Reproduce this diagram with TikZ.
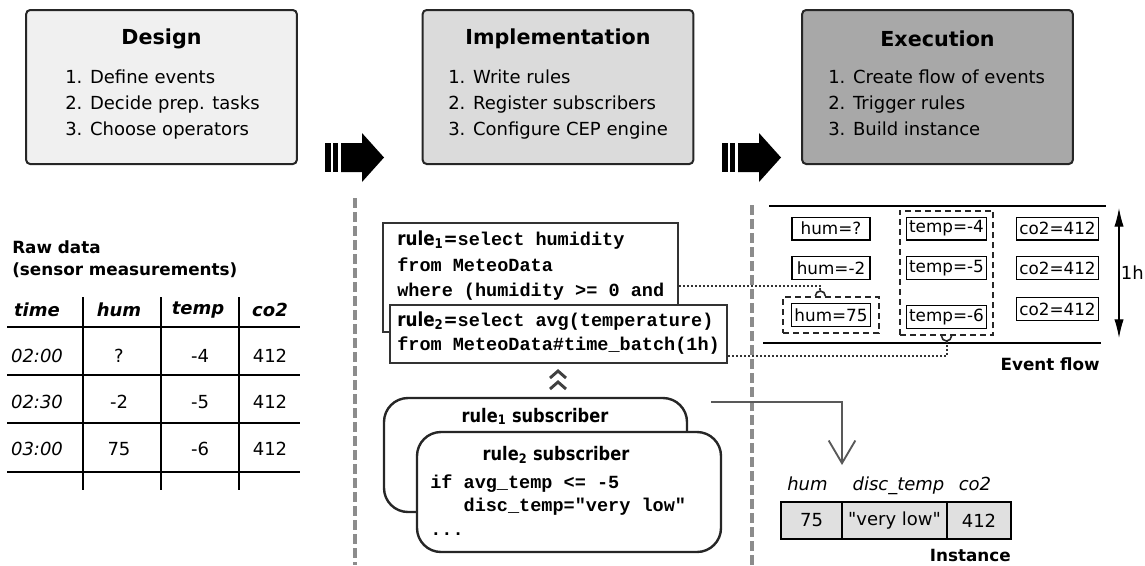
\documentclass[tikz,border=0pt]{standalone}
\usepackage{fontspec}
\setmainfont{DejaVu Sans}
\setmonofont{Liberation Mono}
\newfontfamily\narrowfont[FakeStretch=0.87]{DejaVu Sans}
\usetikzlibrary{arrows.meta,fit,positioning}

\newcommand{\bodysize}{\fontsize{13.5pt}{16pt}\selectfont}
\newcommand{\titlesize}{\fontsize{15.5pt}{18pt}\selectfont}
\newcommand{\labelsize}{\fontsize{12.6pt}{15pt}\selectfont}
\newcommand{\codesize}{\fontsize{13.9pt}{16pt}\selectfont}
\newcommand{\evsize}{\fontsize{12.6pt}{14pt}\selectfont}
\newcommand{\rulehead}[1]{{\narrowfont\bfseries\fontsize{14.5pt}{16pt}\selectfont rule\textsubscript{#1}=}}

\tikzset{
  stagebox/.style={draw=black!85, line width=1.5pt, rounded corners=3pt,
    minimum width=203pt, minimum height=115.5pt},
  stagetitle/.style={font=\titlesize\bfseries},
  stageitem/.style={anchor=base west, inner sep=0pt, font=\bodysize},
  divider/.style={draw=black!45, line width=2.6pt, dash pattern=on 7.5pt off 3pt},
  tabline/.style={line width=2pt},
  thead/.style={font=\bodysize\bfseries\itshape},
  tcell/.style={font=\bodysize},
  rulebox/.style={draw=black!80, line width=1.8pt, fill=white},
  code/.style={anchor=base west, inner sep=0pt, font=\codesize\ttfamily\bfseries},
  subbox/.style={draw=black!85, line width=1.8pt, fill=white, rounded corners=18pt},
  subtitle/.style={anchor=base, inner sep=0pt, font=\narrowfont\fontsize{14pt}{16pt}\selectfont\bfseries},
  boldlbl/.style={inner sep=0pt, font=\labelsize\bfseries},
  evbox/.style={draw, line width=1pt, minimum width=58.5pt, minimum height=17pt,
    inner xsep=2pt, inner ysep=1pt, font=\evsize},
  selbox/.style={draw=black!85, line width=1.5pt, dash pattern=on 4.5pt off 3pt, inner sep=4.5pt},
  link/.style={draw=black!80, line width=1.5pt, dash pattern=on 1.5pt off 1.5pt},
  capline/.style={draw=black!85, line width=1.2pt},
  flowline/.style={line width=1.3pt},
  spanarrow/.style={line width=0.9pt, {Latex[length=14pt,width=7pt]}-{Latex[length=14pt,width=7pt]}},
  outarrow/.style={draw=black!65, line width=1.4pt, -{Straight Barb[length=17pt,width=20pt]}},
  chev/.style={draw=black!75, line width=2.2pt},
  cell/.style={draw, line width=1.8pt, fill=black!12, outer sep=0pt,
    minimum height=27.75pt, font=\bodysize},
  lbl/.style={anchor=base, inner sep=0pt, font=\bodysize\itshape}
}

\begin{document}
\begin{tikzpicture}[x=0.75pt, y=-0.75pt]
    \useasboundingbox (0,0) rectangle (1145,565);

    % stages
    \node[stagebox, fill=black!6] (design) at (161.5,87) {};
    \node[stagebox, fill=black!14] (impl) at (558,87) {};
    \node[stagebox, fill=black!34] (exec) at (937.5,87) {};
    \node[stagetitle] (design-t) at ([yshift=-22.5pt]design.north) {Design};
    \node[stagetitle] (impl-t) at ([yshift=-22.5pt]impl.north) {Implementation};
    \node[stagetitle] (exec-t) at ([yshift=-22.5pt]exec.north) {Execution};
    \foreach \t [count=\i] in {Define events, Decide prep. tasks, Choose operators}
        \node[stageitem] (design-\i) at (65, 57+26*\i) {\i. \t};
    \foreach \t [count=\i] in {Write rules, Register subscribers, Configure CEP engine}
        \node[stageitem] (impl-\i) at (448, 57+26*\i) {\i. \t};
    \foreach \t [count=\i] in {Create flow of events, Trigger rules, Build instance}
        \node[stageitem] (exec-\i) at (828, 57+26*\i) {\i. \t};

    % block arrows between stages
    \foreach \dx in {0,397} {
        \fill (325+\dx,143) rectangle ++(6,29);
        \fill (333+\dx,143) rectangle ++(5,29);
        \fill (341+\dx,143) -- (362+\dx,143) -- (362+\dx,133) -- (384+\dx,157.5)
            -- (362+\dx,182) -- (362+\dx,172) -- (341+\dx,172) -- cycle;
    }

    \draw[divider] (355,198) -- (355,565);
    \draw[divider] (752,205) -- (752,565);

    % raw data table
    \node[boldlbl, anchor=base west] (raw-1) at (12,253) {Raw data};
    \node[boldlbl, anchor=base west] (raw-2) at (12,275) {(sensor measurements)};
    \foreach \y in {327,375,423,472}
        \draw[tabline] (7,\y) -- (300,\y);
    \foreach \x in {83,161,239}
        \draw[tabline] (\x,297) -- (\x,490);
    \foreach \h/\x in {time/37, hum/119, temp/198, co2/270}
        \node[thead] (head-\h) at (\x,310) {\h};
    \foreach \t/\a/\b/\c/\y in {02:00/?/-4/412/356, 02:30/-2/-5/412/402, 03:00/75/-6/412/449} {
        \node[tcell, font=\bodysize\itshape] (row-\y-t) at (37,\y) {\t};
        \node[tcell] (row-\y-h) at (119,\y) {\a};
        \node[tcell] (row-\y-p) at (200,\y) {\b};
        \node[tcell] (row-\y-c) at (270,\y) {\c};
    }

    % rules
    \node[rulebox, minimum width=221.25pt, minimum height=81.75pt] (rule1) at (530.5,277.5) {};
    \node[code] (rule1-a) at (397,245) {\rulehead{1}select humidity};
    \node[code] (rule1-b) at (397,271) {from MeteoData};
    \node[code] (rule1-c) at (397,296) {where (humidity >= 0 and};
    \node[rulebox, minimum width=252.75pt, minimum height=43.5pt] (rule2) at (558.5,334) {};
    \node[code] (rule2-a) at (397,326) {\rulehead{2}select avg(temperature)};
    \node[code] (rule2-b) at (397,350) {from MeteoData\#time\_batch(1h)};

    \draw[chev] (550,378) -- (558,371) -- (566,378);
    \draw[chev] (550,389) -- (558,382) -- (566,389);

    % subscribers
    \node[subbox, minimum width=227.25pt, minimum height=85.5pt] (sub1) at (535.5,455) {};
    \node[subtitle] (sub1-t) at (535,422) {rule\textsubscript{1} subscriber};
    \node[subbox, minimum width=228pt, minimum height=90pt] (sub2) at (569,492) {};
    \node[subtitle] (sub2-t) at (556,460) {rule\textsubscript{2} subscriber};
    \node[code] (sub2-a) at (430,488) {if avg\_temp <= -5};
    \node[code] (sub2-b) at (430,511) {\ \ \ disc\_temp="very low"};
    \node[code] (sub2-c) at (430,535) {...};

    % event flow
    \draw[flowline] (769,206) -- (1106,206);
    \draw[flowline] (763,343) -- (1101,343);
    \node[evbox] (hum1) at (831,228.5) {hum=?};
    \node[evbox] (hum2) at (831,268) {hum=-2};
    \node[evbox] (hum3) at (831,315) {hum=75};
    \node[evbox] (temp1) at (946.5,228.5) {temp=-4};
    \node[evbox] (temp2) at (946.5,268) {temp=-5};
    \node[evbox] (temp3) at (946.5,317) {temp=-6};
    \node[evbox] (co21) at (1057.5,228.5) {co2=412};
    \node[evbox] (co22) at (1057.5,268) {co2=412};
    \node[evbox] (co23) at (1057.5,309) {co2=412};
    \node[selbox, fit=(hum3), inner xsep=6pt] (humsel) {};
    \node[selbox, fit=(temp1)(temp3)] (tempsel) {};

    \coordinate (span-top) at (1119,208);
    \coordinate (span-bot) at (1119,338);
    \draw[spanarrow] (span-top) -- (span-bot) node[midway, right, inner sep=1pt, font=\bodysize] (span-l) {1h};
    \node[boldlbl, anchor=base east] (flow-l) at (1100,370) {Event flow};

    % rule -> selected events
    \draw[link] ([yshift=-6pt]rule1.east) -| ([xshift=-8pt,yshift=3.75pt]humsel.north);
    \draw[capline] ([xshift=-11.75pt]humsel.north) arc[start angle=180, end angle=0, radius=3.75pt];
    \draw[link] ([yshift=6pt]rule2.south east) -| ([yshift=-3.75pt]tempsel.south);
    \draw[capline] ([xshift=-3.75pt]tempsel.south) arc[start angle=180, end angle=360, radius=3.75pt];

    % instance
    \node[cell, minimum width=45.75pt] (cellhum) at (811.5,520.5) {75};
    \node[cell, minimum width=78.75pt, right=0pt of cellhum] (celldisc) {\textquotedbl very low\textquotedbl};
    \node[cell, minimum width=48pt, right=0pt of celldisc] (cellco2) {412};
    \node[lbl] (lblhum) at ([xshift=-3pt,yshift=9pt]cellhum.north) {hum};
    \node[lbl] (lbldisc) at ([xshift=3pt,yshift=9pt]celldisc.north) {disc\_temp};
    \node[lbl] (lblco2) at ([xshift=-3pt,yshift=9pt]cellco2.north) {co2};
    \node[boldlbl, anchor=base east] (inst-l) at ([yshift=-16.5pt]cellco2.south east) {Instance};

    \draw[outarrow] ([xshift=17.25pt,yshift=-3.75pt]sub1.north east) -| ([yshift=27.75pt]cellhum.north east);
\end{tikzpicture}
\end{document}
